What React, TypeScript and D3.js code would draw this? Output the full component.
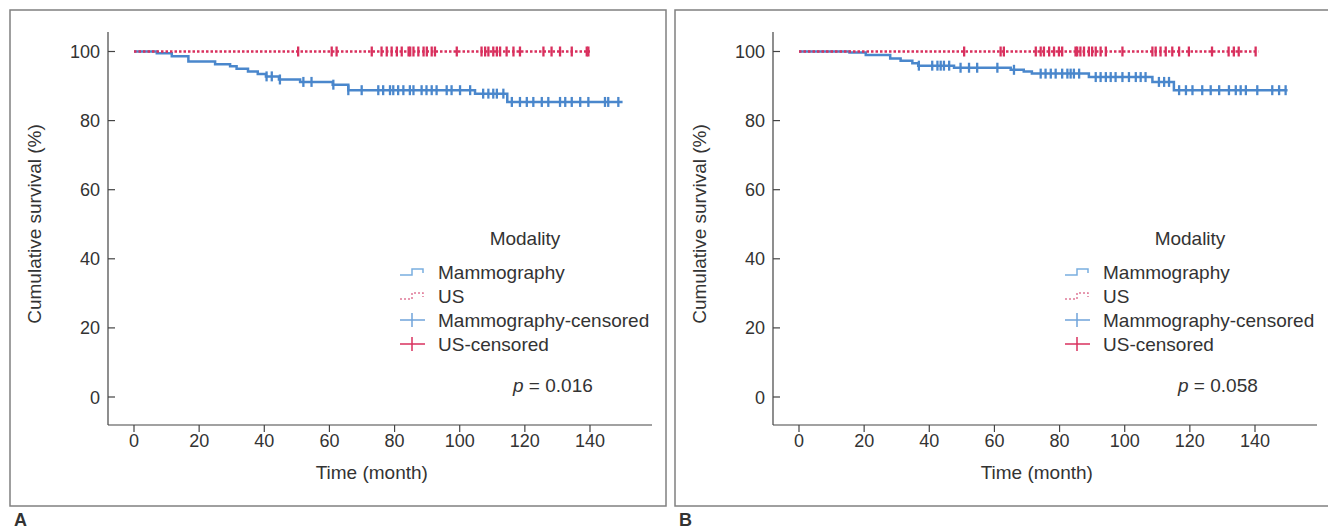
import React from "react";
import * as d3 from "d3";

// ---- Data ----
const xTicks = [0, 20, 40, 60, 80, 100, 120, 140];
const yTicks = [0, 20, 40, 60, 80, 100];
const legendLabels = ["Mammography", "US", "Mammography-censored", "US-censored"];
const legendTitle = "Modality";

// Panel A
const mammoA_time = [0, 7, 11.6, 16.7, 24.9, 29.5, 31.5, 35, 38, 40.5, 44.5, 51, 61, 65.8, 104.7, 114.6, 150];
const mammoA_surv = [100, 99.5, 98.6, 97.1, 96.3, 95.7, 95.0, 94.2, 93.5, 92.8, 91.9, 91.2, 90.4, 88.8, 87.8, 85.4, 85.4];
const usA_time = [0, 140];
const usA_surv = [100, 100];
const mammoA_censor = [40.7, 42.3, 44.8, 52.0, 54.5, 61.2, 65.8, 69.9, 75.0, 76.5, 78.6, 79.6, 81.1, 82.7, 84.7, 85.8, 88.3, 89.8, 91.4, 92.9, 96.0, 97.5, 100.1, 103.2, 107.2, 108.8, 110.3, 111.4, 113.4, 116.0, 118.5, 120.6, 122.6, 125.2, 127.2, 130.8, 132.4, 134.4, 137.0, 139.5, 144.6, 145.6, 148.7];
const usA_censor = [50.4, 60.7, 62.2, 73.0, 76.0, 77.6, 79.1, 80.7, 82.2, 84.3, 84.8, 85.8, 87.3, 88.9, 89.9, 91.4, 92.4, 99.1, 106.7, 107.8, 108.8, 110.3, 111.4, 112.4, 114.4, 116.5, 118.5, 125.7, 128.2, 130.8, 134.4, 139.0, 139.5];
const pA = "0.016";

// Panel B
const mammoB_time = [0, 15.5, 20.5, 28, 31.2, 34.8, 36.6, 47.6, 65, 69, 71.5, 89, 108.5, 115.1, 150];
const mammoB_surv = [100, 99.7, 99.0, 98.0, 97.3, 96.6, 95.9, 95.3, 94.7, 94.2, 93.6, 92.6, 91.2, 88.8, 88.8];
const usB_time = [0, 141];
const usB_surv = [100, 100];
const mammoB_censor = [36.8, 40.9, 42.5, 43.5, 44.5, 46.1, 49.6, 52.2, 54.7, 60.9, 66.0, 74.2, 75.7, 77.3, 78.8, 80.8, 82.4, 83.4, 84.4, 86.0, 91.1, 92.6, 94.2, 95.7, 97.2, 99.3, 101.3, 103.4, 104.9, 106.4, 110.5, 112.1, 113.6, 116.7, 118.8, 120.8, 123.8, 126.4, 129.0, 132.0, 134.1, 135.6, 137.2, 140.7, 145.3, 147.4, 149.4];
const usB_censor = [50.7, 61.9, 62.9, 72.7, 74.2, 75.2, 76.8, 78.3, 79.8, 80.8, 84.9, 85.4, 86.4, 87.5, 89.0, 90.0, 91.1, 92.6, 94.2, 99.3, 108.5, 109.5, 111.0, 112.6, 114.6, 116.7, 119.7, 126.8, 131.9, 133.5, 135.0, 140.2];
const pB = "0.058";

const BLUE = "#4a87cc";
const RED = "#d9305e";
const TEXT = "#333";
const FONT = "'Liberation Sans', Arial, sans-serif";

function survAt(times: number[], surv: number[], t: number) {
  let v = surv[0];
  for (let i = 0; i < times.length; i++) if (times[i] <= t) v = surv[i];
  return v;
}

type PanelProps = {
  ox: number;
  letter: string;
  mT: number[]; mS: number[]; uT: number[]; uS: number[];
  mC: number[]; uC: number[]; p: string;
};

function Panel({ ox, letter, mT, mS, uT, uS, mC, uC, p }: PanelProps) {
  const x = d3.scaleLinear().domain([0, 140]).range([ox + 124, ox + 580]);
  const y = d3.scaleLinear().domain([0, 100]).range([397, 51.5]);
  const axisX = ox + 98;
  const axisY = 425;
  const line = d3.line<[number, number]>().x(d => x(d[0])).y(d => y(d[1])).curve(d3.curveStepAfter);
  const mPath = line(mT.map((t, i) => [t, mS[i]] as [number, number])) || "";
  const uPath = line(uT.map((t, i) => [t, uS[i]] as [number, number])) || "";
  const legX = ox + 390;
  const legRows = [272, 296, 320, 344];
  const sym = (i: number) => {
    const cy = legRows[i];
    if (i < 2) {
      const col = i === 0 ? "#7aaee0" : "#e07a98";
      return (
        <path d={`M${legX},${cy + 3}H${legX + 12}V${cy - 3}H${legX + 23}V${cy + 1}`} fill="none"
          stroke={col} strokeWidth={1.5} strokeDasharray={i === 1 ? "2,2" : undefined} />
      );
    }
    const col = i === 2 ? "#6fa3da" : RED;
    return (
      <g>
        <line x1={legX} x2={legX + 25} y1={cy} y2={cy} stroke={col} strokeWidth={1.5} />
        <line x1={legX + 12} x2={legX + 12} y1={cy - 7} y2={cy + 7} stroke={col} strokeWidth={1.5} />
      </g>
    );
  };
  return (
    <g fontFamily={FONT} fill={TEXT}>
      <rect x={ox} y={10} width={656} height={496} fill="none" stroke="#808080" strokeWidth={1.5} />
      <text x={ox + 4} y={526} fontSize={18} fontWeight="bold">{letter}</text>
      {/* axes */}
      <line x1={axisX} x2={axisX} y1={32} y2={axisY} stroke="#444" strokeWidth={1.2} />
      <line x1={axisX} x2={ox + 642} y1={axisY} y2={axisY} stroke="#444" strokeWidth={1.2} />
      {yTicks.map(t => (
        <g key={"y" + t}>
          <line x1={axisX} x2={axisX + 7} y1={y(t)} y2={y(t)} stroke="#444" strokeWidth={1.2} />
          <text x={axisX - 8} y={y(t) + 6.5} fontSize={18} textAnchor="end">{t}</text>
        </g>
      ))}
      {xTicks.map(t => (
        <g key={"x" + t}>
          <line x1={x(t)} x2={x(t)} y1={axisY} y2={axisY + 7} stroke="#444" strokeWidth={1.2} />
          <text x={x(t)} y={447} fontSize={18} textAnchor="middle">{t}</text>
        </g>
      ))}
      <text x={x(73)} y={479} fontSize={19} textAnchor="middle">Time (month)</text>
      <text transform={`translate(${ox + 31},${224}) rotate(-90)`} fontSize={19} textAnchor="middle">Cumulative survival (%)</text>
      {/* curves */}
      <path d={mPath} fill="none" stroke={BLUE} strokeWidth={2.5} />
      {mC.map((t, i) => (
        <line key={"mc" + i} x1={x(t)} x2={x(t)} y1={y(survAt(mT, mS, t)) - 5} y2={y(survAt(mT, mS, t)) + 5} stroke={BLUE} strokeWidth={2.3} />
      ))}
      <path d={uPath} fill="none" stroke={RED} strokeWidth={2.5} strokeDasharray="2.5,2" />
      {uC.map((t, i) => (
        <line key={"uc" + i} x1={x(t)} x2={x(t)} y1={y(survAt(uT, uS, t)) - 5} y2={y(survAt(uT, uS, t)) + 5} stroke={RED} strokeWidth={2.3} />
      ))}
      {/* legend */}
      <text x={ox + 515} y={245} fontSize={19} textAnchor="middle">{legendTitle}</text>
      {legendLabels.map((lab, i) => (
        <g key={lab}>
          {sym(i)}
          <text x={legX + 38} y={legRows[i] + 6.5} fontSize={19}>{lab}</text>
        </g>
      ))}
      <text x={ox + 503} y={392} fontSize={19}>
        <tspan fontStyle="italic">p</tspan> = {p}
      </text>
    </g>
  );
}

export default function App() {
  return (
    <svg width={1328} height={532} style={{ position: "absolute", left: 0, top: 0, background: "#fff" }}>
      <rect width={1328} height={532} fill="#fff" />
      <Panel ox={10} letter="A" mT={mammoA_time} mS={mammoA_surv} uT={usA_time} uS={usA_surv} mC={mammoA_censor} uC={usA_censor} p={pA} />
      <Panel ox={675} letter="B" mT={mammoB_time} mS={mammoB_surv} uT={usB_time} uS={usB_surv} mC={mammoB_censor} uC={usB_censor} p={pB} />
    </svg>
  );
}
